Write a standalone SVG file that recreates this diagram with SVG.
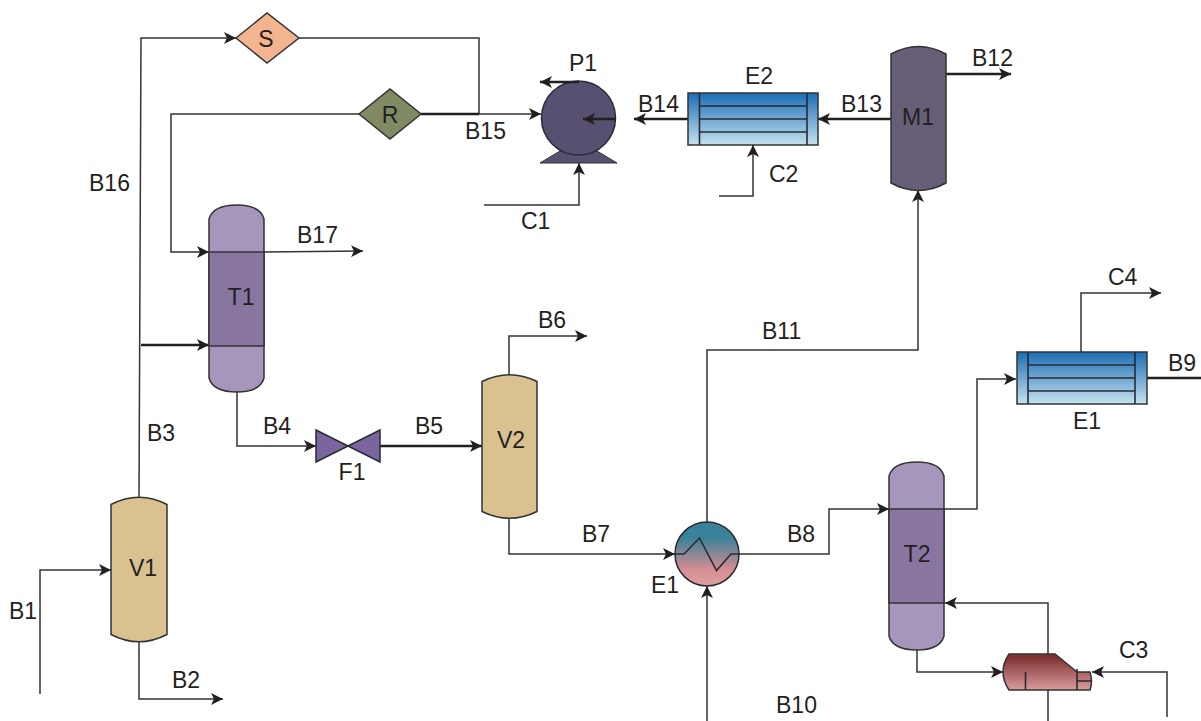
<svg xmlns="http://www.w3.org/2000/svg" width="1201" height="721" viewBox="0 0 1201 721">
<style>
text{font-family:"Liberation Sans",Arial,sans-serif;font-size:23px;fill:#231f20}
.c{fill:none;stroke:#333;stroke-width:1.5}
.t{fill:none;stroke:#231f20;stroke-width:2.4}
.o{stroke:#333;stroke-width:1.5}
.i{fill:none;stroke:#2a2a35;stroke-width:1.6}
.m{text-anchor:middle}
</style>
<defs>
<marker id="a" markerUnits="userSpaceOnUse" markerWidth="14" markerHeight="12" refX="12" refY="6" orient="auto"><path d="M0,0L12,6L0,12L3,6Z" fill="#231f20"/></marker>
<linearGradient id="hx" x1="0" y1="0" x2="0" y2="1"><stop offset="0" stop-color="#1c6db5"/><stop offset="1" stop-color="#c4e2ee"/></linearGradient>
<linearGradient id="ex" x1="0" y1="0" x2="0" y2="1"><stop offset=".25" stop-color="#3a8299"/><stop offset=".75" stop-color="#d88e92"/><stop offset="1" stop-color="#dba0a4"/></linearGradient>
<linearGradient id="rb" x1="0" y1="0" x2="0" y2="1"><stop offset=".1" stop-color="#813233"/><stop offset="1" stop-color="#da9c9c"/></linearGradient>
</defs>
<g id="connectors">
<path class="c" d="M40,694V570H111" marker-end="url(#a)"/>
<path class="c" d="M139,642V699H223" marker-end="url(#a)"/>
<path class="c" d="M139,497L141,38H236" marker-end="url(#a)"/>
<path class="t" d="M141,345H209" marker-end="url(#a)"/>
<path class="c" d="M299,38H479V114"/>
<path class="c" d="M359,114H171V252H209" marker-end="url(#a)"/>
<path class="t" d="M421,114H479"/>
<path class="c" d="M479,114H541" marker-end="url(#a)"/>
<path class="c" d="M264,252L363,251" marker-end="url(#a)"/>
<path class="c" d="M237,392V446H316" marker-end="url(#a)"/>
<path class="t" d="M380,446H482" marker-end="url(#a)"/>
<path class="c" d="M509,375V336H587" marker-end="url(#a)"/>
<path class="c" d="M509,518V554H675" marker-end="url(#a)"/>
<path class="c" d="M707,522V350H918V190" marker-end="url(#a)"/>
<path class="c" d="M707,721V586" marker-end="url(#a)"/>
<path class="c" d="M739,554H829V509H889" marker-end="url(#a)"/>
<path class="c" d="M944,509H977V379H1016" marker-end="url(#a)"/>
<path class="c" d="M1081,352V293H1161" marker-end="url(#a)"/>
<path class="t" d="M1147,378H1201"/>
<path class="c" d="M917,650V672H1003" marker-end="url(#a)"/>
<path class="c" d="M1048,654V603H945" marker-end="url(#a)"/>
<path class="c" d="M1048,690V721"/>
<path class="c" d="M1167,717V672H1092" marker-end="url(#a)"/>
<path class="t" d="M946,74H1011" marker-end="url(#a)"/>
<path class="t" d="M891,119H818" marker-end="url(#a)"/>
<path class="t" d="M688,119H634" marker-end="url(#a)"/>
<path class="c" d="M719,196H753V145" marker-end="url(#a)"/>
<path class="c" d="M484,205H579V163" marker-end="url(#a)"/>
</g>
<g id="V1"><path class="o" fill="#d9c190" d="M111,504.500Q139,490 167,504.500V634.500Q139,649 111,634.500Z"/><text x="143" y="576" class="m">V1</text></g>
<g id="T1"><path class="o" fill="#a696bb" d="M209,219Q213,205 237,205Q260,205 264,219V378Q260,392 237,392Q213,392 209,378Z"/><rect class="o" x="209" y="252" width="55" height="94" fill="#8876a1"/><text x="241" y="305" class="m">T1</text></g>
<g id="V2"><path class="o" fill="#d9c190" d="M482,381.500Q509.500,368 537,381.500V511.500Q509.500,525 482,511.500Z"/><text x="511" y="448" class="m">V2</text></g>
<g id="T2"><path class="o" fill="#a696bb" d="M889,476Q893,462 917,462Q940,462 944,476V636Q940,650 917,650Q893,650 889,636Z"/><rect class="o" x="889" y="509" width="55" height="94" fill="#8876a1"/><text x="917" y="562" class="m">T2</text></g>
<g id="M1"><path class="o" fill="#675e78" d="M891,54Q918.500,39 946,54V183Q918.500,198 891,183Z"/><text x="918" y="125" class="m">M1</text></g>
<g id="F1"><path d="M316,430V462L380,430V462Z" fill="#7a659c" stroke="#2a2a35" stroke-width="1.5"/><text x="352" y="480" class="m">F1</text></g>
<g id="S"><path class="o" d="M236,38L267,13L299,38L267,63Z" fill="#f4b48f"/><text x="266" y="47" class="m">S</text></g>
<g id="R"><path class="o" d="M359,114L390,89L421,114L390,139Z" fill="#808a63"/><text x="390" y="123" class="m">R</text></g>
<g id="P1"><path d="M540,163L560,151H597L617,163Z" fill="#575070" stroke="#333" stroke-width="1"/><circle cx="578.500" cy="118" r="37" fill="#575070" stroke="#2a2a35" stroke-width="1.500"/><path class="t" d="M579,82H540" marker-end="url(#a)"/><path class="t" d="M616,119H583" marker-end="url(#a)"/><text x="583" y="71" class="m">P1</text></g>
<g id="E2"><rect class="o" x="688" y="93" width="130" height="52" fill="url(#hx)"/><path class="i" d="M699.500,93V145M807,93V145M699.500,106H807M699.500,119H807M699.500,132H807"/><text x="759" y="84" class="m">E2</text></g>
<g id="E1b"><rect class="o" x="1017" y="352" width="130" height="52" fill="url(#hx)"/><path class="i" d="M1028,352V404M1135,352V404M1028,365H1135M1028,378H1135M1028,391H1135"/><text x="1087" y="429" class="m">E1</text></g>
<g id="E1a"><circle cx="707" cy="554" r="32" fill="url(#ex)" stroke="#2a2a35" stroke-width="1.500"/><path class="i" d="M675,554H684L699.500,538L716.500,570.500L731,554H739"/><text x="665" y="593" class="m">E1</text></g>
<g id="C3box"><path class="o" fill="url(#rb)" d="M1009,654H1055L1077,672H1090Q1093,681 1090,690H1009Q1003,681 1003,672Q1003,663 1009,654Z"/><path class="i" d="M1025.500,672V690M1077,669V690M1077,681H1092"/></g>
<g id="labels">
<text x="9" y="619">B1</text><text x="172" y="688">B2</text><text x="147" y="441">B3</text><text x="263" y="434">B4</text><text x="415" y="434">B5</text><text x="538" y="328">B6</text><text x="582" y="542">B7</text><text x="787" y="542">B8</text><text x="1168" y="371">B9</text><text x="776" y="713">B10</text><text x="762" y="339">B11</text><text x="972" y="66">B12</text><text x="841" y="112">B13</text><text x="638" y="112">B14</text><text x="465" y="139">B15</text><text x="89" y="191">B16</text><text x="297" y="243">B17</text><text x="521" y="229">C1</text><text x="769" y="182">C2</text><text x="1119" y="658">C3</text><text x="1108" y="285">C4</text>
</g>
</svg>
